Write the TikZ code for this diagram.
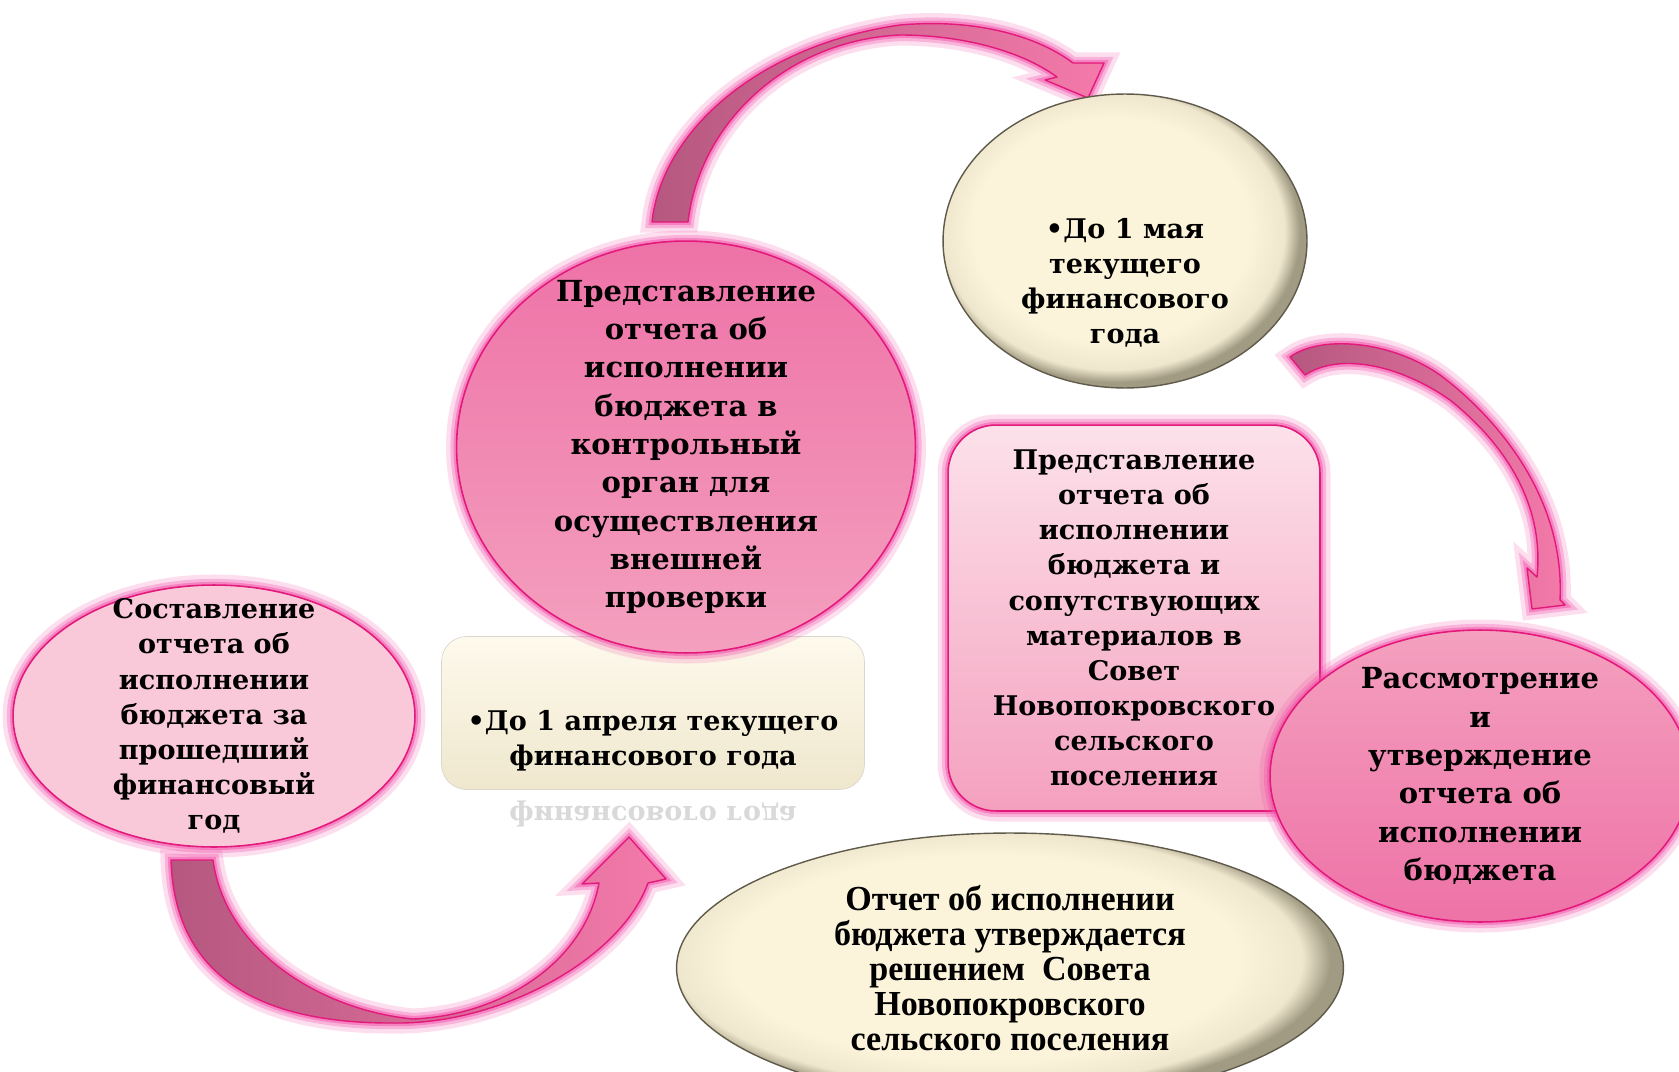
\documentclass[tikz,border=0pt]{standalone}
\usepackage{fontspec}
\setmainfont{DejaVu Serif}
\newfontfamily\timesfont{Liberation Serif}[FakeStretch=0.97]
\usetikzlibrary{positioning,shapes.geometric,calc}

\definecolor{rimpink}{HTML}{E3197B}
\definecolor{glowpink}{HTML}{F04AA5}
\definecolor{palepink}{HTML}{FAC9D9}
\definecolor{midpink}{HTML}{F4A0BE}
\definecolor{hotpink}{HTML}{E5448A}
\definecolor{rosepink}{HTML}{EE72A7}
\definecolor{cream}{HTML}{FCF4DA}
\definecolor{creammid}{HTML}{EFE7CD}
\definecolor{creamedge}{HTML}{A29B84}
\definecolor{creamrim}{HTML}{5F5A4A}
\definecolor{arrowdark}{HTML}{B5587F}
\definecolor{arrowlight}{HTML}{F47AAA}

\pgfdeclareradialshading{creamball}{\pgfpoint{-3bp}{3bp}}{%
  color(0bp)=(cream); color(19bp)=(cream); color(23.5bp)=(creammid);
  color(25.5bp)=(creamedge); color(50bp)=(creamedge)}

\newcommand{\bigtxt}{\bfseries\fontsize{16.5}{21.8}\selectfont}
\newcommand{\smalltxt}{\bfseries\fontsize{15.4}{20}\selectfont}
\newcommand{\timestxt}{\timesfont\bfseries\fontsize{20}{20}\selectfont}

\tikzset{
  glow/.style={preaction={draw=glowpink, line width=12pt, opacity=0.18},
               preaction={draw=glowpink, line width=7pt, opacity=0.3},
               preaction={draw=glowpink, line width=3.5pt, opacity=0.45}},
  pinkoval/.style={ellipse, glow, draw=rimpink, line width=0.9pt,
                   inner sep=-2cm, align=center},
  creamoval/.style={ellipse, draw=creamrim, line width=0.8pt, shade,
                    shading=creamball, inner sep=-2cm, align=center},
  smalltext/.style={font=\smalltxt, align=center},
  blockarrow/.style={glow, draw=rimpink, line width=0.8pt, line join=round,
                     left color=arrowdark, right color=arrowlight},
}

\begin{document}
\begin{tikzpicture}[x=0.02cm, y=-0.02cm]
  \useasboundingbox (0,0) rectangle (1679,1071);

  % curved block arrows
  \path[blockarrow] (652,222) .. controls (662,130) and (760,45) .. (900,25)
    .. controls (980,18) and (1040,38) .. (1073,63) -- (1104,63) -- (1088,98)
    -- (1045,80) -- (1057,77) .. controls (1020,50) and (960,35) .. (900,35)
    .. controls (790,40) and (700,120) .. (688,222) -- cycle;
  \path[blockarrow] (1290,357) .. controls (1320,335) and (1390,340) .. (1440,375)
    .. controls (1500,420) and (1565,500) .. (1560,600) -- (1565,605) -- (1532,609)
    -- (1527,568) -- (1537,577) .. controls (1545,500) and (1500,440) .. (1450,400)
    .. controls (1400,365) and (1340,352) .. (1305,375) -- cycle;
  \path[blockarrow] (171,860) .. controls (175,990) and (280,1024) .. (396,1023)
    .. controls (500,1024) and (620,960) .. (648,883) -- (666,879) -- (629,837)
    -- (582,884) -- (599,883) .. controls (585,960) and (505,1015) .. (413,1019)
    .. controls (320,1010) and (225,950) .. (213,860) -- cycle;

  \node[pinkoval, top color=palepink, middle color=midpink, bottom color=palepink,
        minimum width=8.04cm, minimum height=5.24cm, font=\smalltxt] (prep) at (214,716)
    {Составление\\отчета об\\исполнении\\бюджета за\\прошедший\\финансовый\\год};

  \node[rectangle, rounded corners=0.5cm, draw=creamedge!40, line width=0.4pt,
        top color=cream!50!white, bottom color=creammid,
        minimum width=8.46cm, minimum height=3.06cm] (aprbox) at (653,713) {};
  \node[smalltext] (aprtext) at ($(aprbox.center)+(0,28)$)
    {•До 1 апреля текущего\\финансового года};
  \begin{scope}
    \clip (440,798) rectangle (866,828);
    \node[smalltext, text=gray!30] (aprecho) at (653,814)
      {\scalebox{1}[-1]{финансового года}};
  \end{scope}

  \node[pinkoval, top color=rosepink, middle color=hotpink, bottom color=midpink,
        minimum width=9.18cm, minimum height=8.24cm, font=\bigtxt] (ctrl) at (686,447)
    {Представление\\отчета об\\исполнении\\бюджета в\\контрольный\\орган для\\осуществления\\внешней\\проверки};

  \node[creamoval, minimum width=7.28cm, minimum height=5.88cm] (may) at (1125,241) {};
  \node[smalltext] (maytext) at ($(may.center)+(0,42)$)
    {•До 1 мая\\текущего\\финансового\\года};

  \node[rectangle, rounded corners=0.96cm, glow, draw=rimpink, line width=0.9pt,
        top color=palepink!55!white, bottom color=midpink, align=center,
        minimum width=7.44cm, minimum height=7.72cm, font=\smalltxt] (council) at (1134,618)
    {Представление\\отчета об\\исполнении\\бюджета и\\сопутствующих\\материалов в\\Совет\\Новопокровского\\сельского\\поселения};

  \node[pinkoval, top color=midpink, middle color=hotpink, bottom color=rosepink,
        minimum width=8.4cm, minimum height=5.84cm, font=\bigtxt] (approve) at (1480,776)
    {Рассмотрение\\и\\утверждение\\отчета об\\исполнении\\бюджета};

  \node[creamoval, minimum width=13.34cm, minimum height=5.4cm, font=\timestxt] (decision) at (1010,968)
    {Отчет об исполнении\\бюджета утверждается\\решением~~Совета\\Новопокровского\\сельского поселения};
\end{tikzpicture}
\end{document}
